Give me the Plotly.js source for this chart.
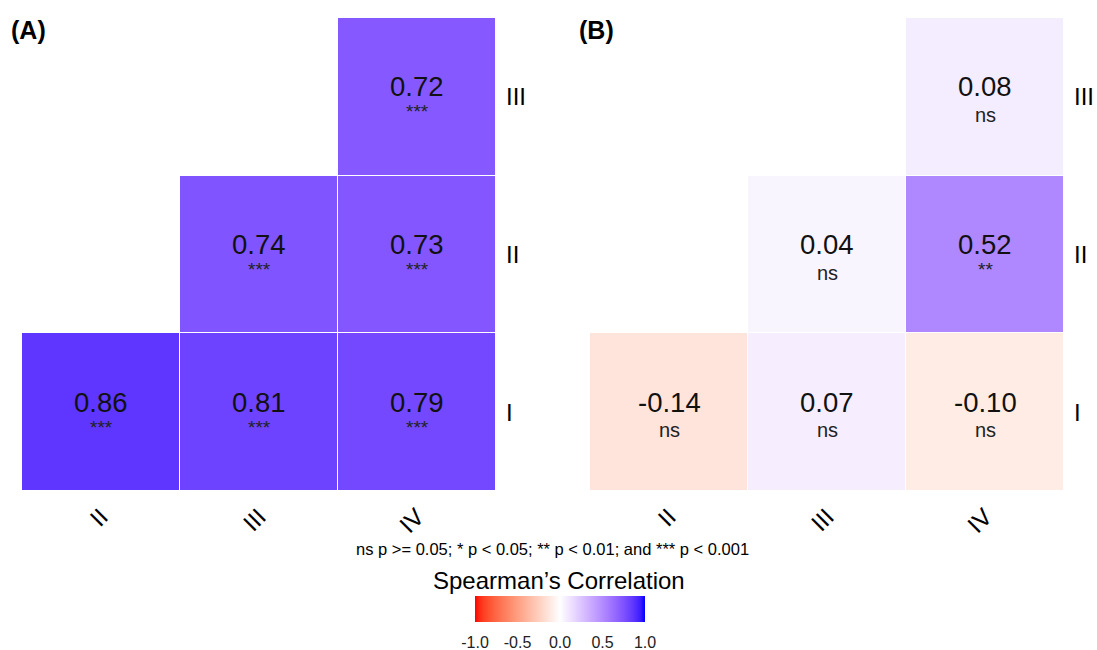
<!DOCTYPE html>
<html>
<head>
<meta charset="utf-8">
<script src="https://cdn.plot.ly/plotly-3.0.1.min.js"></script>
<style>body{margin:0;padding:0;background:#fff;}#chart{width:1097px;height:650px;}</style>
</head>
<body>
<div id="chart"></div>
<script>
// ---- data ----
var xCats = ['II', 'III', 'IV'];
var yCats = ['I', 'II', 'III'];
// rows: I, II, III
var corrA = [[0.86, 0.81, 0.79], [null, 0.74, 0.73], [null, null, 0.72]];
var sigA  = [['***', '***', '***'], [null, '***', '***'], [null, null, '***']];
var corrB = [[-0.14, 0.07, -0.10], [null, 0.04, 0.52], [null, null, 0.08]];
var sigB  = [['ns', 'ns', 'ns'], [null, 'ns', '**'], [null, null, 'ns']];
var panelLabels = ['(A)', '(B)'];
var legendTitle = 'Spearman\u2019s Correlation';
var caption = 'ns p >= 0.05; * p < 0.05; ** p < 0.01; and *** p < 0.001';
var cbTicks = [-1.0, -0.5, 0.0, 0.5, 1.0];
var cbTickText = ['-1.0', '-0.5', '0.0', '0.5', '1.0'];

// ---- Lab-interpolated diverging colour scale (red - white - blue) ----
function srgbToLin(c){c/=255;return c<=0.04045?c/12.92:Math.pow((c+0.055)/1.055,2.4);}
function linToSrgb(c){var v=c<=0.0031308?12.92*c:1.055*Math.pow(c,1/2.4)-0.055;return Math.max(0,Math.min(255,Math.round(v*255)));}
function rgbToLab(rgb){
  var r=srgbToLin(rgb[0]),g=srgbToLin(rgb[1]),b=srgbToLin(rgb[2]);
  var X=(0.4124*r+0.3576*g+0.1805*b)/0.95047,Y=(0.2126*r+0.7152*g+0.0722*b),Z=(0.0193*r+0.1192*g+0.9505*b)/1.08883;
  function f(t){return t>0.008856?Math.cbrt(t):7.787*t+16/116;}
  return [116*f(Y)-16,500*(f(X)-f(Y)),200*(f(Y)-f(Z))];
}
function labToRgb(lab){
  var fy=(lab[0]+16)/116,fx=fy+lab[1]/500,fz=fy-lab[2]/200;
  function fi(t){return t*t*t>0.008856?t*t*t:(t-16/116)/7.787;}
  var X=fi(fx)*0.95047,Y=fi(fy),Z=fi(fz)*1.08883;
  var r=3.2406*X-1.5372*Y-0.4986*Z,g=-0.9689*X+1.8758*Y+0.0415*Z,b=0.0557*X-0.2040*Y+1.0570*Z;
  return [linToSrgb(r),linToSrgb(g),linToSrgb(b)];
}
var labR=rgbToLab([255,0,0]),labW=rgbToLab([255,255,255]),labB=rgbToLab([0,0,255]);
var colorscale=[];
for(var i=0;i<=40;i++){
  var t=i/40,a,b,u;
  if(t<=0.5){a=labR;b=labW;u=t/0.5;}else{a=labW;b=labB;u=(t-0.5)/0.5;}
  var lab=[a[0]+(b[0]-a[0])*u,a[1]+(b[1]-a[1])*u,a[2]+(b[2]-a[2])*u];
  var c=labToRgb(lab);
  colorscale.push([t,'rgb('+c[0]+','+c[1]+','+c[2]+')']);
}

var font = 'Liberation Sans, Arial, sans-serif';

function hm(z, xa, ya){
  return {type:'heatmap', x:xCats, y:yCats, z:z, coloraxis:'coloraxis',
          xaxis:xa, yaxis:ya, xgap:1, ygap:1, hoverongaps:false};
}
var traces = [hm(corrA,'x','y'), hm(corrB,'x2','y2')];

var annotations = [];
function addText(z, sig, xr, yr){
  for(var r=0;r<yCats.length;r++){
    for(var c=0;c<xCats.length;c++){
      if(z[r][c]===null) continue;
      annotations.push({x:xCats[c], y:yCats[r], xref:xr, yref:yr, showarrow:false,
        text:z[r][c].toFixed(2), font:{family:font,size:27.5,color:'#111'}, yshift:10});
      var isNs = sig[r][c]==='ns';
      annotations.push({x:xCats[c], y:yCats[r], xref:xr, yref:yr, showarrow:false,
        text:sig[r][c], font:{family:font,size:isNs?20:19,color:'#222'}, yshift:isNs?-18:-15});
    }
  }
}
addText(corrA, sigA, 'x', 'y');
addText(corrB, sigB, 'x2', 'y2');

annotations.push({x:9/1097, y:1-30/650, xref:'paper', yref:'paper', xanchor:'left', yanchor:'middle',
  showarrow:false, text:'<b>'+panelLabels[0]+'</b>', font:{family:font,size:25,color:'#000'}});
annotations.push({x:577/1097, y:1-30/650, xref:'paper', yref:'paper', xanchor:'left', yanchor:'middle',
  showarrow:false, text:'<b>'+panelLabels[1]+'</b>', font:{family:font,size:25,color:'#000'}});
annotations.push({x:552/1097, y:1-549/650, xref:'paper', yref:'paper', xanchor:'center', yanchor:'middle',
  showarrow:false, text:caption, font:{family:font,size:16.5,color:'#000'}});
annotations.push({x:559/1097, y:1-580/650, xref:'paper', yref:'paper', xanchor:'center', yanchor:'middle',
  showarrow:false, text:legendTitle, font:{family:font,size:24,color:'#000'}});

var yTop = 1-18/650, yBot = 1-491/650;
function xax(d){return {domain:d, type:'category', categoryorder:'array', categoryarray:xCats,
  range:[-0.5,2.5], showgrid:false, zeroline:false, showline:false, ticks:'', tickangle:-45,
  automargin:false, ticklabelstandoff:6, tickfont:{family:font,size:24,color:'#000'}, fixedrange:true};}
function yax(d, anchor){return {domain:d, type:'category', categoryorder:'array', categoryarray:yCats,
  range:[-0.5,2.5], side:'right', anchor:anchor, showgrid:false, zeroline:false, showline:false, ticks:'',
  automargin:false, ticklabelstandoff:9, tickfont:{family:font,size:24,color:'#000'}, fixedrange:true};}

var layout = {
  width:1097, height:650,
  margin:{l:0,r:0,t:0,b:0, autoexpand:false},
  paper_bgcolor:'#fff', plot_bgcolor:'#fff',
  showlegend:false,
  xaxis: Object.assign(xax([22/1097, 496/1097]), {anchor:'y'}),
  yaxis: Object.assign(yax([yBot, yTop], 'x')),
  xaxis2: Object.assign(xax([590/1097, 1064/1097]), {anchor:'y2'}),
  yaxis2: Object.assign(yax([yBot, yTop], 'x2')),
  coloraxis:{cmin:-1, cmax:1, colorscale:colorscale,
    colorbar:{orientation:'h', x:560/1097, xanchor:'center', y:1-596/650, yanchor:'top',
      len:170, lenmode:'pixels', thickness:26, thicknessmode:'pixels', outlinewidth:0,
      xpad:0, ypad:0,
      tickvals:cbTicks, ticktext:cbTickText, ticks:'outside', ticklen:7, tickcolor:'rgba(0,0,0,0)', tickwidth:1,
      tickfont:{family:font,size:16,color:'#222'}}},
  annotations: annotations
};

Plotly.newPlot('chart', traces, layout, {displayModeBar:false, staticPlot:true});
</script>
</body>
</html>
